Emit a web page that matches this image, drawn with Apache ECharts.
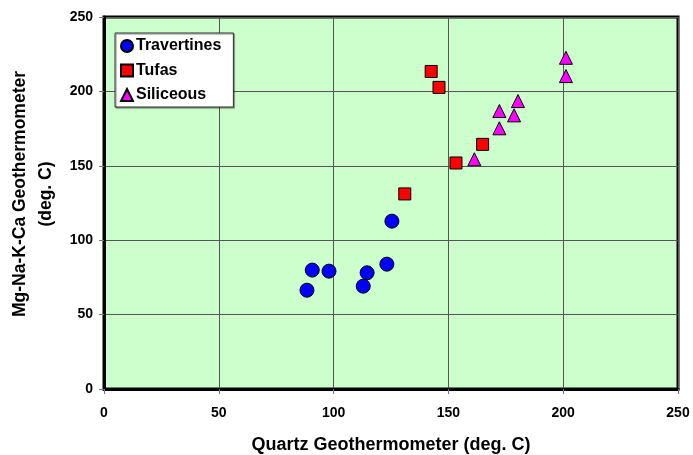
<!DOCTYPE html>
<html><head><meta charset="utf-8">
<script src="https://cdn.jsdelivr.net/npm/echarts@6/dist/echarts.min.js"></script>
<style>html,body{margin:0;padding:0;background:#fff}#c{width:693px;height:455px}</style>
</head><body><div id="c"></div>
<script>
const seriesNames = ["Travertines", "Tufas", "Siliceous"];
const travertines = [[88.4,66.4],[90.7,79.9],[98,79.2],[112.9,69.1],[114.6,78.1],[123.2,83.9],[125.4,112.8]];
const tufas = [[142.5,213.4],[145.9,202.7],[164.9,164.4],[153.3,151.9],[131,131.1]];
const siliceous = [[201.2,222.6],[201.2,210.3],[180.3,193.5],[172.2,186.8],[178.6,183.9],[172.2,175.2],[161.3,154.4]];
const xTitle = "Quartz Geothermometer (deg. C)";
const yTitle = "Mg-Na-K-Ca Geothermometer\n(deg. C)";

const chart = echarts.init(document.getElementById('c'));
const font = 'Liberation Sans, Arial, sans-serif';
const axisCommon = {
  min: 0, max: 250, interval: 50,
  axisLine: {show: true, onZero: false, lineStyle: {color: '#000', width: 3}},
  axisTick: {show: true, length: 5, lineStyle: {color: '#777', width: 1}},
  axisLabel: {color: '#000', fontFamily: font, fontWeight: 'bold', fontSize: 14},
  splitLine: {show: true, lineStyle: {color: '#555', width: 1}},
  nameTextStyle: {color: '#000', fontFamily: font, fontWeight: 'bold', fontSize: 18}
};
chart.setOption({
  animation: false,
  grid: {left: 104, top: 17, right: 15, bottom: 66, containLabel: false, outerBoundsMode: 'none',
    show: true, backgroundColor: '#ccffcc', borderColor: '#000', borderWidth: 3},
  xAxis: Object.assign({}, axisCommon, {type: 'value', name: xTitle, nameLocation: 'middle', nameGap: 47,
    axisLabel: Object.assign({}, axisCommon.axisLabel, {margin: 17})}),
  yAxis: Object.assign({}, axisCommon, {type: 'value', name: yTitle, nameLocation: 'middle', nameGap: 30,
    nameTextStyle: Object.assign({}, axisCommon.nameTextStyle, {fontSize: 17.5, lineHeight: 26, padding: [0, 0, 0, 18]}),
    axisLabel: Object.assign({}, axisCommon.axisLabel, {margin: 11})}),
  legend: {
    orient: 'vertical', left: 115, top: 33, width: 117,
    backgroundColor: '#fff', borderColor: '#333', borderWidth: 1,
    shadowColor: 'rgba(0,0,0,0.5)', shadowOffsetX: 1, shadowOffsetY: 1, shadowBlur: 1,
    padding: [5, 12, 4, 5], itemGap: 8.5, itemWidth: 12, itemHeight: 12,
    textStyle: {color: '#000', fontFamily: font, fontWeight: 'bold', fontSize: 16, padding: [0,0,0,-2]},
    data: seriesNames
  },
  series: [
    {name: seriesNames[0], type: 'scatter', symbol: 'circle', symbolSize: 14, data: travertines,
     itemStyle: {color: '#0000ff', opacity: 1, borderColor: '#000', borderWidth: 1}},
    {name: seriesNames[1], type: 'scatter', symbol: 'rect', symbolSize: 12, data: tufas,
     itemStyle: {color: '#ff0000', opacity: 1, borderColor: '#000', borderWidth: 1}},
    {name: seriesNames[2], type: 'scatter', symbol: 'triangle', symbolSize: 13, data: siliceous,
     itemStyle: {color: '#ff00ff', opacity: 1, borderColor: '#000', borderWidth: 1}}
  ]
});
</script></body></html>
